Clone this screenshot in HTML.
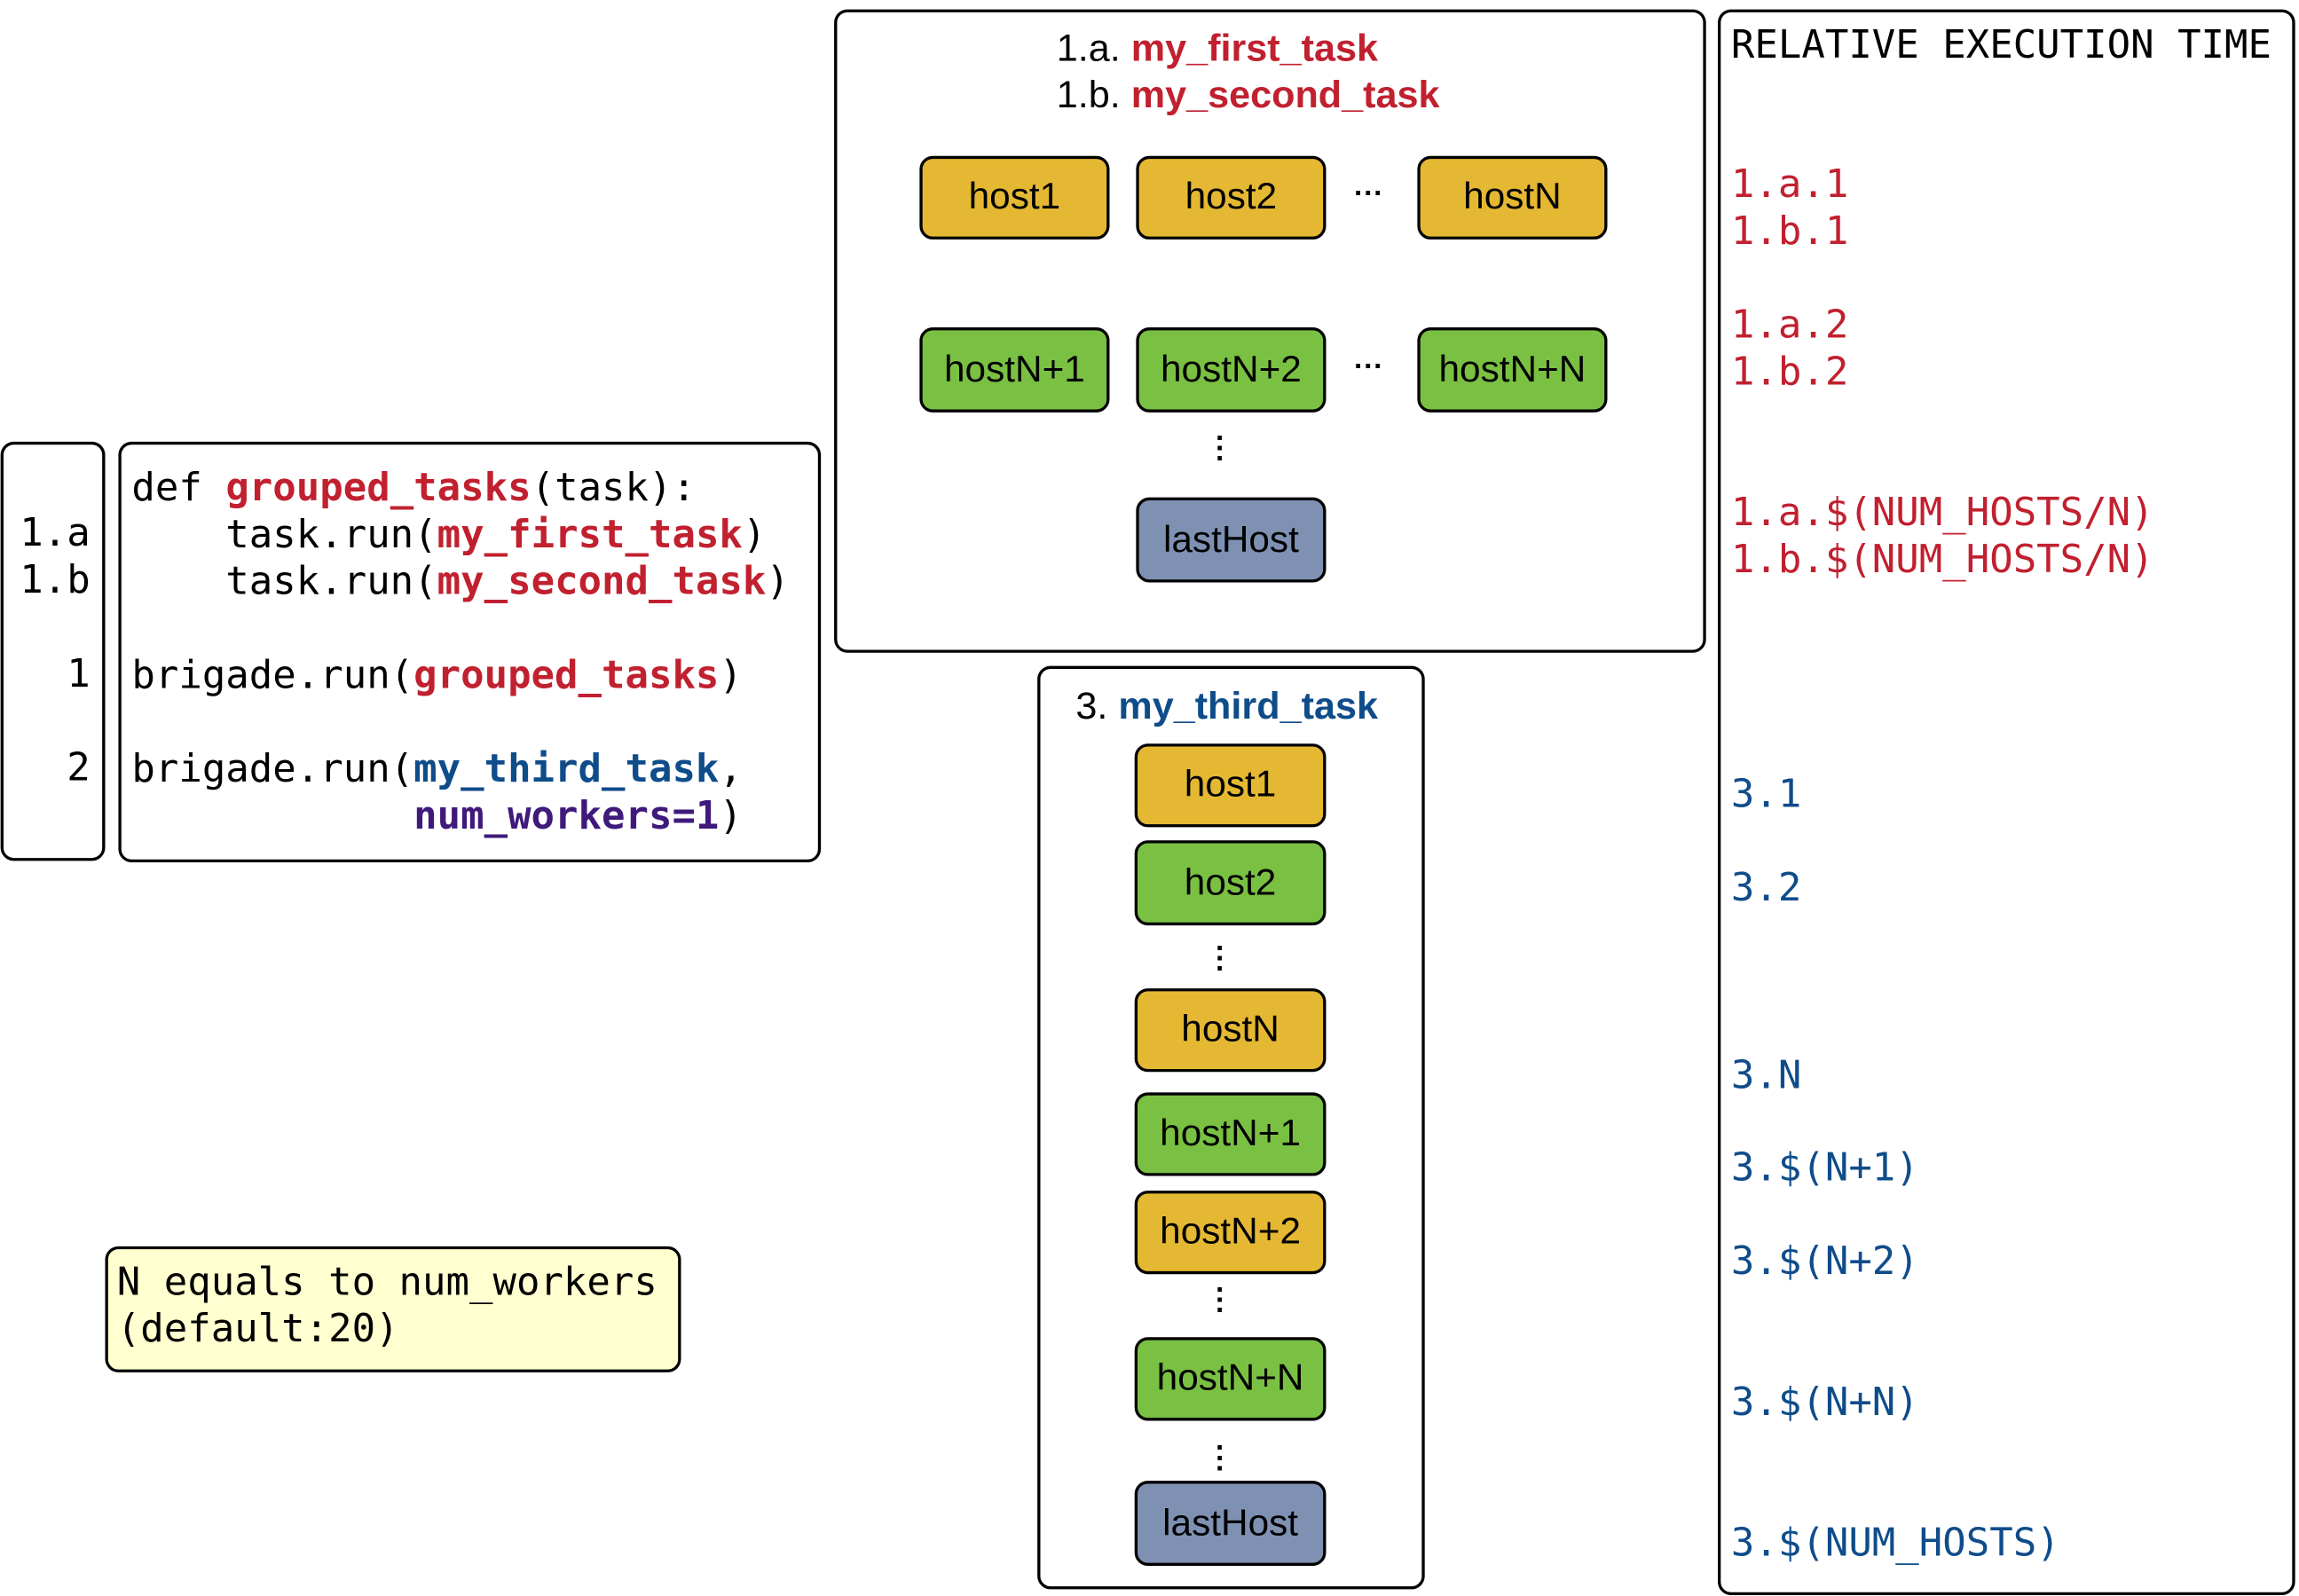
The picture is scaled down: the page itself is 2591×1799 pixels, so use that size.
<!DOCTYPE html>
<html><head><meta charset="utf-8"><style>
html,body{margin:0;padding:0;background:#fff;}
body{width:2591px;height:1799px;overflow:hidden;position:relative;}
#w{position:absolute;left:-1px;top:-1px;width:1561px;height:1089px;transform:scale(1.6598,1.652);transform-origin:0 0;}
.b{position:absolute;border:2px solid #000;border-radius:9px;box-sizing:border-box;}
.m{font-family:"DejaVu Sans Mono","Liberation Mono",monospace;font-size:26.5px;white-space:pre;position:absolute;line-height:32px;}
.h{position:absolute;box-sizing:border-box;border:2px solid #000;border-radius:9px;font-family:"Liberation Sans",Arial,sans-serif;font-size:25.5px;text-align:center;display:flex;align-items:center;justify-content:center;}
.y{background:#E5B833}.g{background:#7AC143}.p{background:#7F91B3}
.t{position:absolute;font-family:"Liberation Sans",Arial,sans-serif;font-size:26px;white-space:nowrap;line-height:32px;}
.r{color:#C1202F;font-weight:bold}.bl{color:#0F4C8A;font-weight:bold}.pu{color:#3F1A7A;font-weight:bold}
.rr{color:#C1202F}.bb{color:#0F4C8A}
.d{position:absolute;font-family:"Liberation Sans",sans-serif;font-size:20px;font-weight:bold;}
</style></head><body><div id="w">
<div class="b" style="left:1px;top:302px;width:71px;height:286px"></div>
<div class="m" style="left:14px;top:349px;text-align:right">1.a
1.b

  1

  2</div>
<div class="b" style="left:81px;top:302px;width:477px;height:287px"></div>
<div class="m" style="left:90px;top:318px">def <span class="r">grouped_tasks</span>(task):
    task.run(<span class="r">my_first_task</span>)
    task.run(<span class="r">my_second_task</span>)

brigade.run(<span class="r">grouped_tasks</span>)

brigade.run(<span class="bl">my_third_task</span>,
            <span class="pu">num_workers=1</span>)</div>

<div class="b" style="left:567px;top:7px;width:592px;height:439px"></div>
<div class="t" style="left:718px;top:17px">1.a. <span class="r">my_first_task</span></div>
<div class="t" style="left:718px;top:49px">1.b. <span class="r">my_second_task</span></div>
<div class="h y" style="left:625px;top:107px;width:129px;height:57px">host1</div>
<div class="h y" style="left:772px;top:107px;width:129px;height:57px">host2</div>
<div class="d" style="left:920px;top:122px">···</div>
<div class="h y" style="left:963px;top:107px;width:129px;height:57px">hostN</div>
<div class="h g" style="left:625px;top:224px;width:129px;height:58px">hostN+1</div>
<div class="h g" style="left:772px;top:224px;width:129px;height:58px">hostN+2</div>
<div class="d" style="left:920px;top:240px">···</div>
<div class="h g" style="left:963px;top:224px;width:129px;height:58px">hostN+N</div>
<div class="d" style="left:826px;top:297px;line-height:7px">·<br>·<br>·</div>
<div class="h p" style="left:772px;top:340px;width:129px;height:58px">lastHost</div>

<div class="b" style="left:705px;top:455px;width:263px;height:630px"></div>
<div class="t" style="left:731px;top:466px">3. <span class="bl">my_third_task</span></div>
<div class="h y" style="left:771px;top:508px;width:130px;height:57px">host1</div>
<div class="h g" style="left:771px;top:574px;width:130px;height:58px">host2</div>
<div class="d" style="left:826px;top:645px;line-height:7px">·<br>·<br>·</div>
<div class="h y" style="left:771px;top:675px;width:130px;height:57px">hostN</div>
<div class="h g" style="left:771px;top:746px;width:130px;height:57px">hostN+1</div>
<div class="h y" style="left:771px;top:813px;width:130px;height:57px">hostN+2</div>
<div class="d" style="left:826px;top:878px;line-height:7px">·<br>·<br>·</div>
<div class="h g" style="left:771px;top:913px;width:130px;height:57px">hostN+N</div>
<div class="d" style="left:826px;top:986px;line-height:7px">·<br>·<br>·</div>
<div class="h p" style="left:771px;top:1011px;width:130px;height:58px">lastHost</div>

<div class="b" style="left:1167px;top:7px;width:392px;height:1082px"></div>
<div class="m" style="left:1176px;top:16px">RELATIVE EXECUTION TIME</div>
<div class="m rr" style="left:1176px;top:111px">1.a.1
1.b.1

1.a.2
1.b.2</div>
<div class="m rr" style="left:1176px;top:335px">1.a.$(NUM_HOSTS/N)
1.b.$(NUM_HOSTS/N)</div>
<div class="m bb" style="left:1176px;top:527px">3.1</div>
<div class="m bb" style="left:1176px;top:591px">3.2</div>
<div class="m bb" style="left:1176px;top:719px">3.N</div>
<div class="m bb" style="left:1176px;top:782px">3.$(N+1)</div>
<div class="m bb" style="left:1176px;top:846px">3.$(N+2)</div>
<div class="m bb" style="left:1176px;top:942px">3.$(N+N)</div>
<div class="m bb" style="left:1176px;top:1038px">3.$(NUM_HOSTS)</div>

<div class="b" style="left:72px;top:851px;width:391px;height:86px;background:#FFFFD0"></div>
<div class="m" style="left:80px;top:860px">N equals to num_workers
(default:20)</div>
</div></body></html>
